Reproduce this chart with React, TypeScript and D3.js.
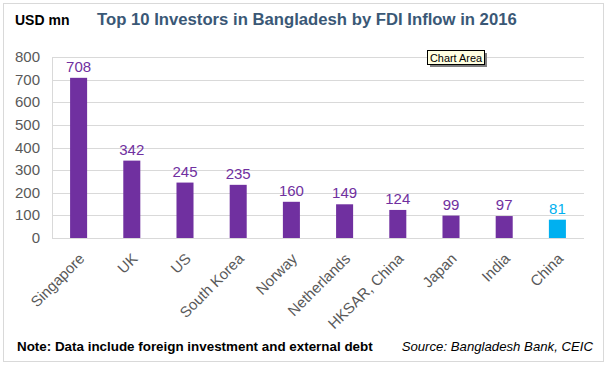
import React from "react";
import * as d3 from "d3";

const countries = ["Singapore", "UK", "US", "South Korea", "Norway", "Netherlands", "HKSAR, China", "Japan", "India", "China"];
const inflows = [708, 342, 245, 235, 160, 149, 124, 99, 97, 81];
const yTicks = [0, 100, 200, 300, 400, 500, 600, 700, 800];

const W = 607;
const H = 366;
const font = "'Liberation Sans', Arial, sans-serif";
const purple = "#7030A0";
const blue = "#00B0F0";

export default function App() {
  const x = d3.scaleBand<string>().domain(countries).range([52, 584]).paddingInner(0.68).paddingOuter(0.34);
  const y = d3.scaleLinear().domain([0, 800]).range([238, 57]);
  const colorOf = (c: string) => (c === "China" ? blue : purple);

  return (
    <svg width={W} height={H} style={{ position: "absolute", left: 0, top: 0 }} fontFamily={font}>
      <rect x={3.5} y={3.5} width={600} height={358} fill="#fff" stroke="#d9d9d9" />

      <text x={15} y={25} fontSize={14} fontWeight="bold" fill="#000">USD mn</text>
      <text x={97} y={25} fontSize={16.7} fontWeight="bold" fill="#3A5876">
        Top 10 Investors in Bangladesh by FDI Inflow in 2016
      </text>

      {yTicks.map((t) => (
        <g key={t}>
          {t > 0 && <line x1={52} x2={584} y1={Math.round(y(t)) + 0.5} y2={Math.round(y(t)) + 0.5} stroke="#d9d9d9" />}
          <text x={40} y={y(t) + 5} fontSize={15} fill="#595959" textAnchor="end">{t}</text>
        </g>
      ))}
      <line x1={52.5} x2={52.5} y1={57} y2={238} stroke="#d9d9d9" />
      <line x1={52} x2={584} y1={238.5} y2={238.5} stroke="#d9d9d9" />

      {countries.map((c, i) => {
        const bx = x(c)!;
        const cx = bx + x.bandwidth() / 2;
        return (
          <g key={c}>
            <rect x={bx} y={y(inflows[i])} width={x.bandwidth()} height={y(0) - y(inflows[i])} fill={colorOf(c)} />
            <text x={cx} y={y(inflows[i]) - 6} fontSize={15} fill={colorOf(c)} textAnchor="middle">{inflows[i]}</text>
            <text
              transform={`translate(${cx + 3},${256}) rotate(-45)`}
              fontSize={15}
              fill="#595959"
              textAnchor="end"
              dy="0.35em"
            >
              {c}
            </text>
          </g>
        );
      })}

      <text x={17} y={351} fontSize={13.4} fontWeight="bold" fill="#000">
        Note: Data include foreign investment and external debt
      </text>
      <text x={593} y={351} fontSize={13.2} fontStyle="italic" fill="#000" textAnchor="end">
        Source: Bangladesh Bank, CEIC
      </text>

      <g>
        <rect x={430} y={53} width={57} height={14} fill="#808080" />
        <rect x={427.5} y={50.5} width={57} height={14} fill="#FFFFE1" stroke="#000" />
        <text x={430} y={61.5} fontSize={11} textLength={52} lengthAdjust="spacingAndGlyphs" fill="#000">
          Chart Area
        </text>
      </g>
    </svg>
  );
}
